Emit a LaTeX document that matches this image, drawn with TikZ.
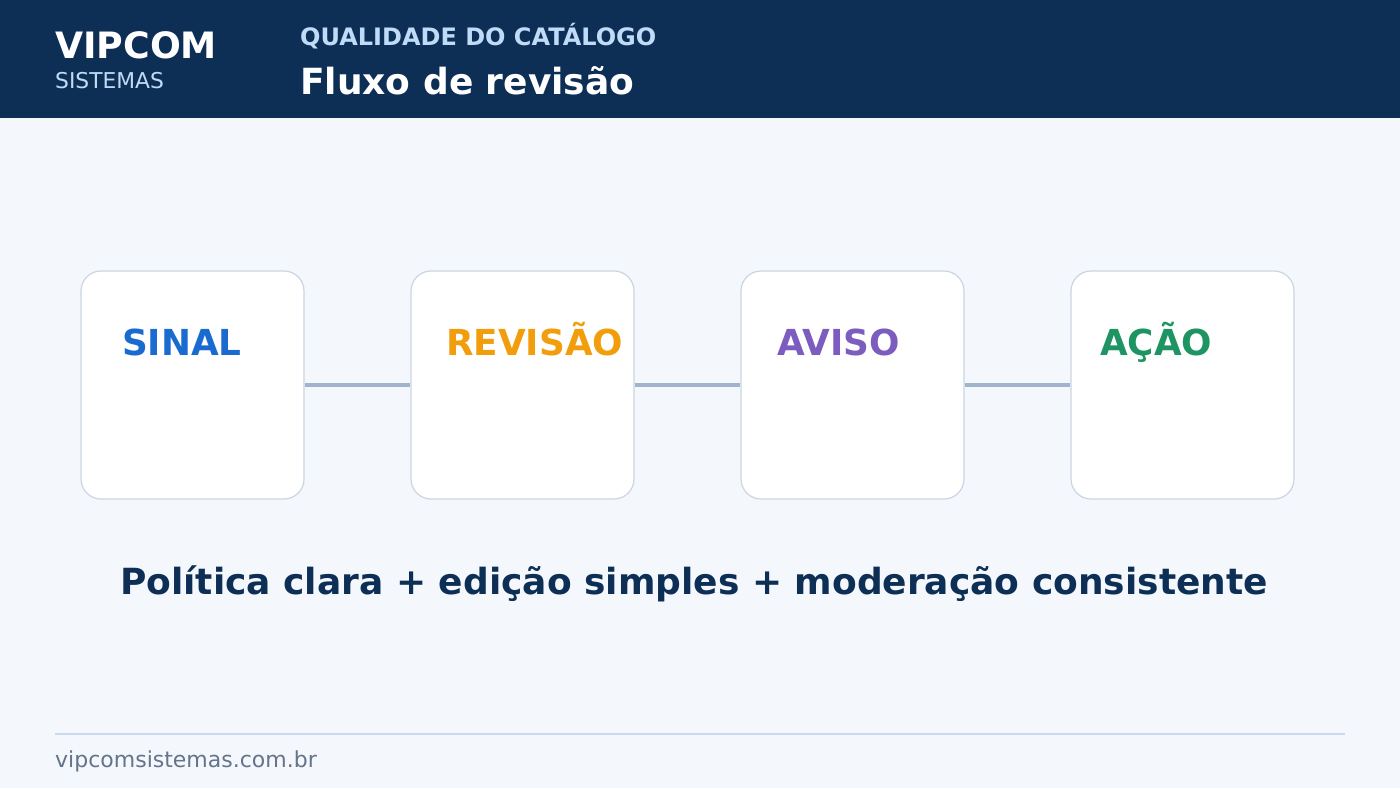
\documentclass[tikz,border=0pt]{standalone}
\usepackage{fontspec}
\setmainfont{DejaVu Sans}
\definecolor{navy}{HTML}{0E2F55}
\definecolor{bg}{HTML}{F4F8FC}
\definecolor{lightblue}{HTML}{BFDBF7}
\definecolor{boxborder}{HTML}{CBD5E1}
\definecolor{conn}{HTML}{A0B4CC}
\definecolor{cblue}{HTML}{1A6BD0}
\definecolor{corange}{HTML}{F29E0C}
\definecolor{cpurple}{HTML}{7C5CBF}
\definecolor{cgreen}{HTML}{1E9463}
\definecolor{rule}{HTML}{C9DAEE}
\definecolor{foot}{HTML}{64748B}
\begin{document}
\begin{tikzpicture}[x=1pt,y=-1pt,
  txt/.style={anchor=base west,inner sep=0pt},
  card/.style={draw=boxborder,line width=1.2pt,fill=white,rounded corners=20pt,minimum width=223pt,minimum height=228pt,inner sep=0pt},
  lbl/.style={txt,font=\fontsize{35.8}{36}\selectfont\bfseries},
  link/.style={conn,line width=4pt}]
\useasboundingbox (0,0) rectangle (1400,788);
\fill[bg] (0,0) rectangle (1400,788);
\fill[navy] (0,0) rectangle (1400,118);
\node[txt,white,font=\fontsize{36.3}{36}\selectfont\bfseries] (brand) at (55,58) {VIPCOM};
\node[txt,lightblue,font=\fontsize{21.8}{22}\selectfont] (sub) at (55,88) {SISTEMAS};
\node[txt,lightblue,font=\fontsize{24}{24}\selectfont\bfseries] (kicker) at (300,45) {QUALIDADE DO CATÁLOGO};
\node[txt,white,font=\fontsize{36}{36}\selectfont\bfseries] (title) at (300,94) {Fluxo de revisão};
\node[card] (c1) at (192.5,385) {};
\node[card] (c2) at (522.5,385) {};
\node[card] (c3) at (852.5,385) {};
\node[card] (c4) at (1182.5,385) {};
\draw[link] (c1.east) -- (c2.west);
\draw[link] (c2.east) -- (c3.west);
\draw[link] (c3.east) -- (c4.west);
\node[lbl,cblue] (l1) at (122,355) {SINAL};
\node[lbl,corange] (l2) at (446,355) {REVISÃO};
\node[lbl,cpurple] (l3) at (777,355) {AVISO};
\node[lbl,cgreen] (l4) at (1100,355) {AÇÃO};
\node[anchor=base,inner sep=0pt,navy,font=\fontsize{36}{36}\selectfont\bfseries] (motto) at (694,594) {Política clara + edição simples + moderação consistente};
\coordinate (r1) at (55,734); \coordinate (r2) at (1345,734);
\draw[rule,line width=1.5pt] (r1) -- (r2);
\node[txt,foot,font=\fontsize{22}{22}\selectfont] (url) at (55,767) {vipcomsistemas.com.br};
\end{tikzpicture}
\end{document}
